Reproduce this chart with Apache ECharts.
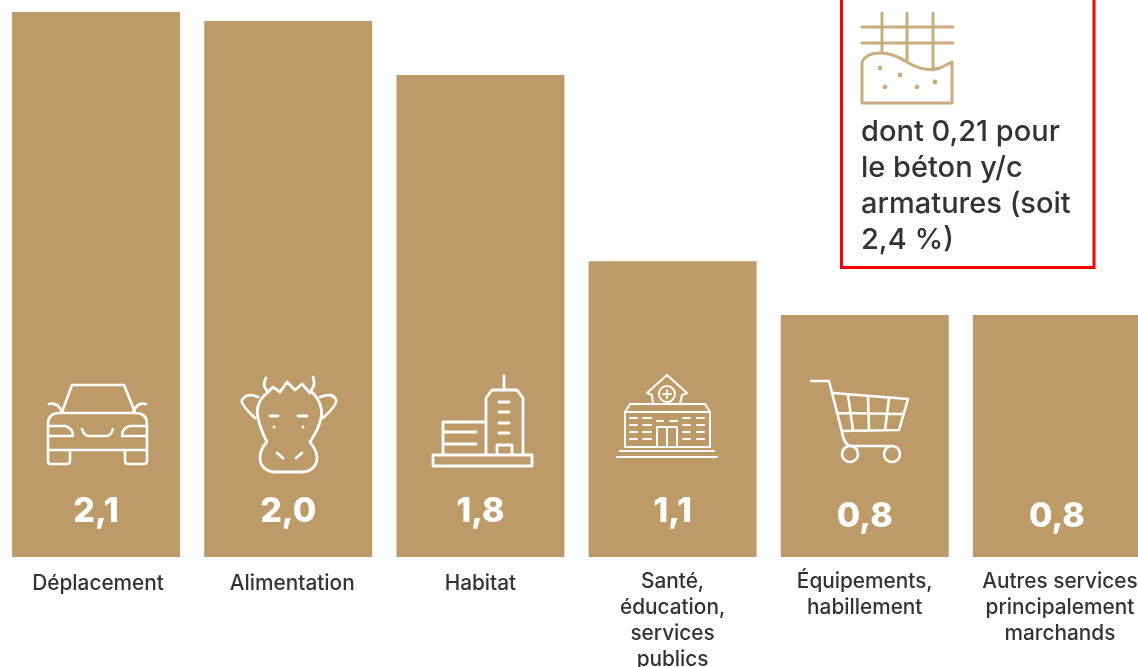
<!DOCTYPE html>
<html>
<head>
<meta charset="utf-8">
<style>html,body{margin:0;padding:0;background:#fff;overflow:hidden}#c{width:1138px;height:667px}</style>
<script src="https://cdn.jsdelivr.net/npm/echarts@6/dist/echarts.min.js"></script>
</head>
<body>
<div id="c"></div>
<script>
const categories = ['Déplacement','Alimentation','Habitat','Santé,\néducation,\nservices\npublics','Équipements,\nhabillement','Autres services\nprincipalement\nmarchands'];
const barHeights = [2.1, 2.065, 1.857, 1.14, 0.932, 0.932];
const valueLabels = ['2,1','2,0','1,8','1,1','0,8','0,8'];
const noteLines = ['dont 0,21 pour','le béton y/c','armatures (soit','2,4 %)'];

const GOLD = '#BC9B68', FONT = 'Inter, "Noto Sans", sans-serif';

const icons = {
  car: 'M62 412L72 385L124 385L135 412 M48 424Q48 413 60 413L135 413Q147 413 147 424L147 450L48 450Z M49 426L65 426Q73 428 73 436L49 436 M146 426L130 426Q122 428 122 436L146 436 M82 429Q84 436 89 436L106 436Q111 436 113 429 M48 450L48 461Q48 464 51 464L67 464Q70 464 70 461L70 450 M125 450L125 461Q125 464 128 464L144 464Q147 464 147 461L147 450 M49 404Q58 402 62 412 M146 404Q137 402 133 412',
  cow: 'M267 393C258 400 256 410 258 418C260 428 264 436 267 442C262 447 260 452 260 458C260 467 267 472 276 472L301 472C310 472 317 467 317 458C317 452 314 447 310 442C314 436 319 428 321 418C323 410 320 400 312 392 M267 393L273 387L280 392L287 382L295 390L302 384L310 393 M267 391Q262 385 266 378 M311 390Q316 385 313 377 M258 397Q247 392 242 400Q240 404 255 418 M320 397Q333 392 336 400Q338 404 323 418 M270 416L278 416 M298 416L307 416 M274 427L274 427.2 M303 427L303 427.2 M277 453L283 458 M302 453L296 458',
  building: 'M433 455L532 455L532 466L433 466Z M486 455L486 398L492 390L517 390L523 398L523 455 M504 376L504 390 M499 402L509 402 M499 412L509 412 M499 423L509 423 M499 433L509 433 M497 455L497 445L512 445L512 455 M443 455L443 422L486 422 M443 432L476 432 M443 444L476 444',
  school: 'M647 393L667 375L687 393 M647 393L652 395L653 404 M687 393L682 395L680 404 M667 386A8 8 0 1 1 666.9 386 M667 390L667 398 M663 394L671 394 M625 412L630 404L705 404L710 412Z M625 412L625 447L710 447L710 412 M620 451L714 451 M617 457L717 457 M657 447L657 427L677 427L677 447 M667 427L667 447 M630 418L637 418 M643 418L651 418 M683 418L690 418 M697 418L704 418 M630 425L637 425 M643 425L651 425 M683 425L690 425 M697 425L704 425 M630 432L637 432 M643 432L651 432 M683 432L690 432 M697 432L704 432 M630 439L637 439 M643 439L651 439 M683 439L690 439 M697 439L704 439 M657 421L663 421 M670 421L677 421',
  cart: 'M811 381L829 381L842 432Q844 446 852 446L891 446 M833 393L908 399L899 430L842 431 M837 413L903 414 M848 395L853 430 M868 397L869 430 M889 398L885 430 M858 454A8 8 0 1 1 858 453.9 M900 454A8 8 0 1 1 900 453.9',
  concrete: 'M862 27L953 27 M862 43L953 43 M882 13L882 53 M907 13L907 60 M933 13L933 70 M862 62Q866 53 880 53Q893 53 907 62Q925 73 940 68L952 62L952 103L862 103Z'
};
const dots = [[880,68],[900,75],[885,87],[917,87],[935,82]];

Object.keys(icons).forEach(k => echarts.graphic.registerShape('icon_'+k, echarts.graphic.extendPath(icons[k], {})));

const iconGraphic = (name, color, w) => ({type:'icon_'+name, shape:{}, style:{fill:'none', stroke:color, lineWidth:w, lineJoin:'round', lineCap:'round'}, z:10});

const graphic = [
  {type:'rect', shape:{x:841.5,y:-10,width:252.5,height:277.5}, style:{fill:'#fff',stroke:'#f00',lineWidth:3}, z:5},
  iconGraphic('car','#fff',2.6), iconGraphic('cow','#fff',2.8), iconGraphic('building','#fff',2.8),
  iconGraphic('school','#fff',2), iconGraphic('cart','#fff',2.6), iconGraphic('concrete','#C9AD7C',3)
];
dots.forEach(d => graphic.push({type:'circle', shape:{cx:d[0],cy:d[1],r:2.4}, style:{fill:'#C9AD7C'}, z:10}));
noteLines.forEach((t,i) => graphic.push({type:'text', x:861, y:132+36*i, z:10,
  style:{text:t, fill:'#333', font:'500 29px '+FONT, textVerticalAlign:'middle', textAlign:'left'}}));

const labelStyle = {color:'#333', fontFamily:FONT, fontSize:20.8, fontWeight:500, lineHeight:26};
const labelPads = [[3,0,0,4],[3,0,0,8],[3,0,0,0],[0,0,0,0],[0,0,0,0],[0,0,0,6]];
const rich = {};
labelPads.forEach((p,i) => { rich['r'+i] = Object.assign({padding:p}, labelStyle); });

const chart = echarts.init(document.getElementById('c'), null, {renderer:'canvas'});
chart.setOption({
  animation:false,
  backgroundColor:'#fff',
  grid:{left:0, top:12, width:1153, height:545, outerBoundsMode:'none', containLabel:false},
  xAxis:{type:'category', data:categories, axisLine:{show:false}, axisTick:{show:false}, splitLine:{show:false},
    axisLabel:Object.assign({interval:0, margin:12, hideOverlap:false, rich:rich,
      formatter:(v,i) => v.split('\n').map(l => '{r'+i+'|'+l+'}').join('\n')}, labelStyle)},
  yAxis:{type:'value', min:0, max:2.1, show:false, splitLine:{show:false}},
  series:[{type:'bar', barWidth:168, itemStyle:{color:GOLD},
    data:barHeights.map((v,i) => ({value:v, label:{distance: i>=4 ? 23 : 28}})),
    label:{show:true, position:'insideBottom', color:'#fff', fontFamily:FONT, fontWeight:800, fontSize:34,
      formatter:p => valueLabels[p.dataIndex]}}],
  graphic:graphic
});
</script>
</body>
</html>
